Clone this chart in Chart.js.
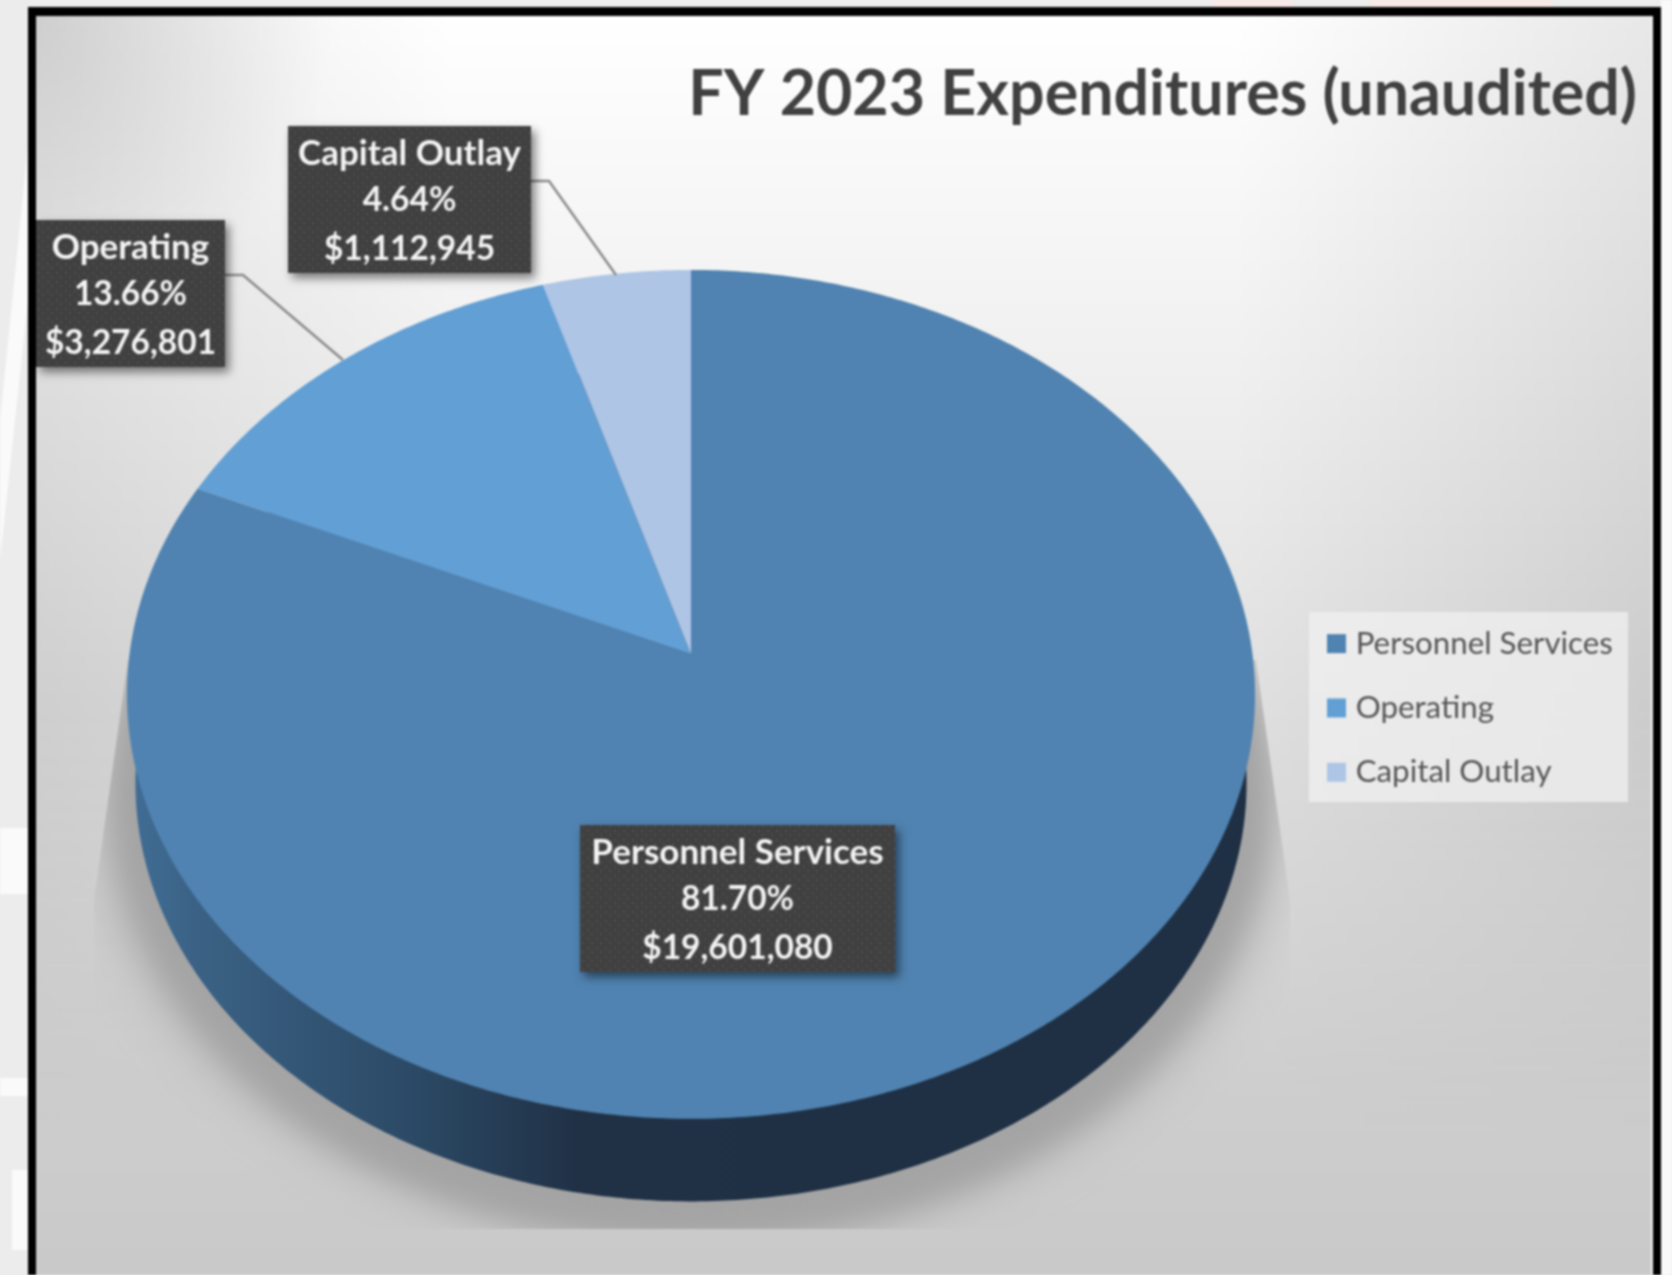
<!DOCTYPE html>
<html>
<head>
<meta charset="utf-8">
<style>
html,body{margin:0;padding:0;background:#ececec;overflow:hidden}
#wrap{position:relative;width:1672px;height:1275px}
canvas{display:block;filter:blur(0.9px)}
</style>
<script src="https://cdn.jsdelivr.net/npm/chart.js@4/dist/chart.umd.min.js"></script>
</head>
<body>
<div id="wrap"><canvas id="c" width="1672" height="1275"></canvas></div>
<script>
// ---- data ----
const categories = ['Personnel Services', 'Operating', 'Capital Outlay'];
const amounts = [19601080, 3276801, 1112945];
const percentLabels = ['81.70%', '13.66%', '4.64%'];
const amountLabels = ['$19,601,080', '$3,276,801', '$1,112,945'];
const chartTitle = 'FY 2023 Expenditures (unaudited)';

// ---- styles ----
const sliceColors = ['#5083B1', '#629FD4', '#AEC5E5'];
const wallStops = [[0, '#416E96'], [0.06, '#3B6285'], [0.25, '#2C4A66'], [0.4, '#203146'], [1, '#1F3044']];

// ---- layout ----
const pieRect = {left: 127, top: 127, right: 1255, bottom: 1255};
const frame = {left: 36, top: 16, right: 1651};
const labelBoxes = [
  {x: 580, y: 825, w: 315, h: 147},
  {x: 36, y: 220, w: 189, h: 147, leader: [[225, 275], [243, 275], [343, 360]]},
  {x: 288, y: 126, w: 243, h: 147, leader: [[531, 181], [549, 181], [616, 275]]}
];
const SQUASH = 0.752, APEX = 0.065, PERSP = 0.0943, WIDTH = 0.9956;
const WALL_SCALE = 0.985, WALL_DROP = 89;

function project(el, a, inner, s, d) {
  const u = inner ? 0 : Math.cos(a), v = inner ? 0 : Math.sin(a);
  const w = 1 - PERSP * v, r = el.outerRadius;
  return [el.x + s * r * WIDTH * u / w, el.y + d + s * r * (SQUASH * v - APEX) / w];
}
function slicePath(ctx, el, s, d) {
  ctx.beginPath();
  const p0 = project(el, 0, true, s, d);
  ctx.moveTo(p0[0], p0[1]);
  const n = Math.max(2, Math.ceil((el.endAngle - el.startAngle) / 0.01));
  for (let i = 0; i <= n; i++) {
    const p = project(el, el.startAngle + (el.endAngle - el.startAngle) * i / n, false, s, d);
    ctx.lineTo(p[0], p[1]);
  }
  ctx.closePath();
}
function dotPattern(ctx) {
  const t = document.createElement('canvas');
  t.width = 9; t.height = 9;
  const g = t.getContext('2d');
  g.fillStyle = '#404040'; g.fillRect(0, 0, 9, 9);
  g.fillStyle = '#4d4d4d'; g.fillRect(2, 2, 2, 2); g.fillRect(6, 6, 2, 2);
  return ctx.createPattern(t, 'repeat');
}

const scenePlugin = {
  id: 'scene',
  afterLayout(chart) {
    const a = pieRect;
    chart.chartArea = {left: a.left, top: a.top, right: a.right, bottom: a.bottom,
      width: a.right - a.left, height: a.bottom - a.top};
    const t = chart.titleBlock;
    t.left = 500; t.right = 1637; t.top = 63.5; t.bottom = 125;
    const l = chart.legend, pad = l.options.labels.padding;
    l.left = 1333 - pad; l.right = 1640; l.top = 628 - pad; l.bottom = 1275;
  },
  beforeDraw(chart) {
    const ctx = chart.ctx, W = chart.width, H = chart.height;
    ctx.save();
    // outer page
    ctx.fillStyle = '#ececec'; ctx.fillRect(0, 0, W, H);
    ctx.fillStyle = '#fafafa';
    ctx.fillRect(1661, 0, 11, H);
    ctx.fillRect(0, 828, 28, 66); ctx.fillRect(0, 1078, 28, 18); ctx.fillRect(12, 1170, 16, 80);
    ctx.beginPath(); ctx.moveTo(0, 420); ctx.lineTo(28, 147); ctx.lineTo(28, 300); ctx.lineTo(0, 560); ctx.closePath(); ctx.fill();
    ctx.fillStyle = '#f8e8e8';
    ctx.fillRect(1213, 0, 80, 7); ctx.fillRect(1370, 0, 183, 7);
    // black frame
    ctx.fillStyle = '#000';
    ctx.fillRect(28, 7, 1633, H - 7);
    ctx.fillStyle = '#f2f2f2';
    ctx.fillRect(frame.right, frame.top, 2, H);
    // panel gradient
    const x0 = frame.left, y0 = frame.top, pw = frame.right - x0, ph = H - y0;
    const g = ctx.createLinearGradient(0, y0, 0, H);
    g.addColorStop(0, '#ffffff'); g.addColorStop(0.28, '#f0f0f0');
    g.addColorStop(0.55, '#e0e0e0'); g.addColorStop(0.85, '#cecece'); g.addColorStop(1, '#c9c9c9');
    ctx.fillStyle = g; ctx.fillRect(x0, y0, pw, ph);
    // side darkening that fades out towards the bottom
    for (let y = y0; y < H; y += 6) {
      const f = y < 700 ? 1 : Math.max(0, 1 - (y - 700) / 450);
      const gl = ctx.createLinearGradient(x0, 0, x0 + 420, 0);
      gl.addColorStop(0, 'rgba(0,0,0,' + 0.08 * f + ')'); gl.addColorStop(1, 'rgba(0,0,0,0)');
      ctx.fillStyle = gl; ctx.fillRect(x0, y, 420, 6);
      const gr = ctx.createLinearGradient(frame.right - 420, 0, frame.right, 0);
      gr.addColorStop(0, 'rgba(0,0,0,0)'); gr.addColorStop(1, 'rgba(0,0,0,' + 0.09 * f + ')');
      ctx.fillStyle = gr; ctx.fillRect(frame.right - 420, y, 420, 6);
    }
    const c1 = ctx.createRadialGradient(x0, y0, 0, x0, y0, 300);
    c1.addColorStop(0, 'rgba(0,0,0,0.12)'); c1.addColorStop(1, 'rgba(0,0,0,0)');
    ctx.fillStyle = c1; ctx.fillRect(x0, y0, 300, 300);
    // legend panel
    ctx.fillStyle = 'rgba(240,240,240,0.75)';
    ctx.fillRect(1309, 612, 319, 190);
    ctx.restore();
  },
  beforeDatasetDraw(chart, args) {
    const ctx = chart.ctx, meta = chart.getDatasetMeta(args.index), arcs = meta.data;
    const first = arcs[0], R = first.outerRadius;
    ctx.save();
    // soft shadow under the pie, cut off by a tapering outline
    ctx.save();
    ctx.beginPath();
    ctx.moveTo(128, 660); ctx.lineTo(1256, 660); ctx.lineTo(1290, 900); ctx.lineTo(1290, 1229);
    ctx.lineTo(94, 1229); ctx.lineTo(94, 900); ctx.closePath(); ctx.clip();
    ctx.filter = 'blur(24px)';
    ctx.fillStyle = 'rgba(150,150,150,0.35)';
    ctx.beginPath();
    ctx.ellipse(first.x, first.y + 120, R * 1.06, R * SQUASH * 1.02, 0, 0, Math.PI * 2);
    ctx.fill();
    ctx.filter = 'blur(14px)';
    ctx.fillStyle = '#a4a4a4';
    ctx.beginPath();
    ctx.ellipse(first.x, first.y + WALL_DROP + 14, R * 1.03, R * SQUASH * 1.055, 0, 0, Math.PI * 2);
    ctx.fill();
    ctx.restore();
    // side wall
    const wg = ctx.createLinearGradient(first.x - R, 0, first.x + R, 0);
    wallStops.forEach(s => wg.addColorStop(s[0], s[1]));
    ctx.fillStyle = wg;
    arcs.forEach(el => { slicePath(ctx, el, WALL_SCALE, WALL_DROP); ctx.fill(); });
    // top face
    arcs.forEach((el, i) => {
      slicePath(ctx, el, 1, 0);
      ctx.fillStyle = sliceColors[i];
      ctx.fill();
    });
    ctx.restore();
    return false;
  },
  afterDraw(chart) {
    const ctx = chart.ctx;
    ctx.save();
    const pattern = dotPattern(ctx);
    labelBoxes.forEach((b, i) => {
      if (b.leader) {
        ctx.strokeStyle = '#8a8a8a'; ctx.lineWidth = 2.5;
        ctx.beginPath();
        b.leader.forEach((p, j) => j ? ctx.lineTo(p[0], p[1]) : ctx.moveTo(p[0], p[1]));
        ctx.stroke();
      }
      ctx.save();
      ctx.shadowColor = 'rgba(0,0,0,0.5)'; ctx.shadowBlur = 9;
      ctx.shadowOffsetX = 4; ctx.shadowOffsetY = 5;
      ctx.fillStyle = '#404040';
      ctx.fillRect(b.x, b.y, b.w, b.h);
      ctx.restore();
      ctx.fillStyle = pattern;
      ctx.fillRect(b.x, b.y, b.w, b.h);
      ctx.fillStyle = '#f4f4f4';
      ctx.textAlign = 'center'; ctx.textBaseline = 'middle';
      const cx = b.x + b.w / 2;
      ctx.font = 'bold 35px Lato';
      ctx.fillText(categories[i], cx, b.y + 28);
      ctx.font = 'bold 33.5px Lato';
      ctx.fillText(percentLabels[i], cx, b.y + 74);
      ctx.fillText(amountLabels[i], cx, b.y + 123);
    });
    ctx.restore();
  }
};

new Chart(document.getElementById('c'), {
  type: 'pie',
  data: {
    labels: categories,
    datasets: [{data: amounts, backgroundColor: sliceColors, borderWidth: 0}]
  },
  options: {
    responsive: false,
    animation: false,
    events: [],
    rotation: 0,
    plugins: {
      tooltip: {enabled: false},
      title: {
        display: true, text: chartTitle, align: 'end', position: 'top',
        color: '#404040', padding: 0,
        font: {family: 'Lato', size: 62.7, weight: 'bold', lineHeight: 1}
      },
      legend: {
        display: true, position: 'right', align: 'start',
        labels: {
          usePointStyle: true, pointStyle: 'rect',
          boxWidth: 7, boxHeight: 19, padding: 33, color: '#555555',
          font: {family: 'Lato', size: 31.3, lineHeight: 1}
        }
      }
    }
  },
  plugins: [scenePlugin]
});
</script>
</body>
</html>
